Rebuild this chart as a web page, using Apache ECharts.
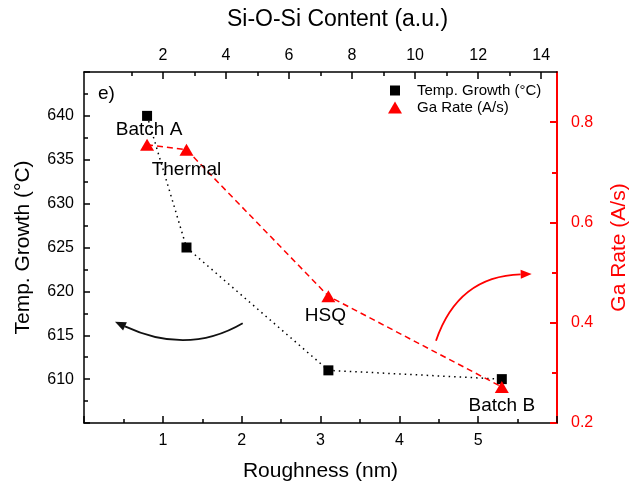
<!DOCTYPE html>
<html>
<head>
<meta charset="utf-8">
<title>Roughness vs Temp. Growth / Ga Rate</title>
<script src="https://cdn.jsdelivr.net/npm/echarts@6/dist/echarts.min.js"></script>
<style>
  html, body { margin: 0; padding: 0; background: #fff; }
  #main { width: 633px; height: 488px; }
</style>
</head>
<body>
<div id="main"></div>
<script>
// values
const sampleNames = ['Batch A', 'Thermal', 'HSQ', 'Batch B'];
const roughness = [0.8, 1.3, 3.1, 5.3];        // nm
const tempGrowth = [640, 625, 611, 610];       // °C
const gaRate = [0.755, 0.745, 0.453, 0.272];   // A/s

// tick labels that are not on a regular interval from the axis min
const siosiTicks = [2, 4, 6, 8, 10, 12, 14];
const siosiMinor = [1, 3, 5, 7, 9, 11, 13];
const gaTicks = [0.2, 0.4, 0.6, 0.8];
const gaMinor = [0.3, 0.5, 0.7];

const FONT = '"Liberation Sans", Arial, sans-serif';
const black = '#000';
const red = '#ff0000';

// which series carries each sample label, and where it sits from the marker
const labelOn = ['temp', 'ga', 'ga', 'ga'];
const labelShift = [[2, 14], [0, 20], [-3, 20], [0, 19]];

function pointData(ys, key) {
  return roughness.map(function (x, i) {
    let item = { value: [x, ys[i]] };
    if (labelOn[i] == key) {
      item.label = {
        show: true,
        position: 'inside',
        offset: labelShift[i],
        formatter: sampleNames[i],
        color: black,
        fontSize: 19,
        fontFamily: FONT
      };
    }
    return item;
  });
}

// curved arrow: quadratic curve + filled head at the end
function arrow(p0, c, p1, color) {
  let dx = p1[0] - c[0], dy = p1[1] - c[1];
  let len = Math.sqrt(dx * dx + dy * dy);
  dx /= len; dy /= len;
  let headLen = 11, headW = 4.5;
  let bx = p1[0] - dx * headLen, by = p1[1] - dy * headLen;
  return [{
    type: 'bezierCurve',
    shape: { x1: p0[0], y1: p0[1], cpx1: c[0], cpy1: c[1], x2: bx, y2: by },
    style: { stroke: color, lineWidth: 1.8, fill: null }
  }, {
    type: 'polygon',
    shape: { points: [p1, [bx - dy * headW, by + dx * headW], [bx + dy * headW, by - dx * headW]] },
    style: { fill: color }
  }];
}

var myChart = echarts.init(document.getElementById('main'));

const tickStyle = { color: black, width: 1.5 };

let option = {
  animation: false,
  textStyle: { fontFamily: FONT },
  grid: { left: 84, right: 76, top: 72, bottom: 65, outerBoundsMode: 'none' },
  legend: [{
    data: [{ name: 'Temp. Growth (°C)', icon: 'rect' }],
    left: 390, top: 83, padding: 0,
    itemWidth: 10, itemHeight: 10,
    selectedMode: false,
    textStyle: { fontSize: 15, color: black, padding: [0, 0, 0, 12] }
  }, {
    data: [{ name: 'Ga Rate (A/s)', icon: 'triangle' }],
    left: 388, top: 100, padding: 0,
    itemWidth: 14, itemHeight: 12,
    selectedMode: false,
    textStyle: { fontSize: 15, color: black, padding: [0, 0, 0, 10] }
  }],
  xAxis: [{
    type: 'value', position: 'bottom',
    min: 0, max: 6, interval: 1,
    name: 'Roughness (nm)', nameLocation: 'middle', nameGap: 38,
    nameTextStyle: { fontSize: 21, color: black },
    axisLine: { onZero: false, lineStyle: { color: black, width: 1.5 } },
    axisTick: { inside: true, length: 7, lineStyle: tickStyle },
    minorTick: { show: true, splitNumber: 2, length: 4, lineStyle: tickStyle },
    axisLabel: { fontSize: 16, color: black, margin: 10, showMinLabel: false, showMaxLabel: false },
    splitLine: { show: false }
  }, {
    type: 'value', position: 'top',
    min: -0.5, max: 14.5,
    name: 'Si-O-Si Content (a.u.)', nameLocation: 'middle', nameGap: 41,
    // the title sits a little right of the plot centre in the original
    nameTextStyle: { fontSize: 23, color: black, padding: [0, 0, 0, 34] },
    axisLine: { onZero: false, lineStyle: { color: black, width: 1.5 } },
    axisTick: { inside: true, length: 7, customValues: siosiTicks, lineStyle: tickStyle },
    axisLabel: { fontSize: 16, color: black, margin: 8, customValues: siosiTicks },
    splitLine: { show: false }
  }, {
    // minor ticks of the top axis
    type: 'value', position: 'top',
    min: -0.5, max: 14.5,
    axisLine: { show: false, onZero: false },
    axisTick: { inside: true, length: 4, customValues: siosiMinor, lineStyle: tickStyle },
    axisLabel: { show: false },
    splitLine: { show: false }
  }],
  yAxis: [{
    type: 'value', position: 'left',
    min: 605, max: 645, interval: 5,
    name: 'Temp. Growth (°C)', nameLocation: 'middle', nameGap: 50,
    nameTextStyle: { fontSize: 21, color: black },
    axisLine: { show: true, onZero: false, lineStyle: { color: black, width: 1.5 } },
    axisTick: { show: true, inside: true, length: 6, lineStyle: tickStyle },
    minorTick: { show: true, splitNumber: 2, length: 4, lineStyle: tickStyle },
    axisLabel: { fontSize: 16, color: black, margin: 10, showMinLabel: false, showMaxLabel: false },
    splitLine: { show: false }
  }, {
    type: 'value', position: 'right',
    min: 0.2, max: 0.9,
    name: 'Ga Rate (A/s)', nameLocation: 'middle', nameGap: 52,
    nameTextStyle: { fontSize: 21, color: red },
    axisLine: { show: true, onZero: false, lineStyle: { color: red, width: 2 } },
    axisTick: { show: true, inside: true, length: 7, customValues: gaTicks, lineStyle: { color: red, width: 2 } },
    axisLabel: {
      fontSize: 16, color: red, margin: 14, customValues: gaTicks,
      formatter: function (v) { return v.toFixed(1); }
    },
    splitLine: { show: false }
  }, {
    // minor ticks of the right axis
    type: 'value', position: 'right',
    min: 0.2, max: 0.9,
    axisLine: { show: false, onZero: false },
    axisTick: { show: true, inside: true, length: 5, customValues: gaMinor, lineStyle: { color: red, width: 2 } },
    axisLabel: { show: false },
    splitLine: { show: false }
  }],
  series: [{
    name: 'Temp. Growth (°C)',
    type: 'line',
    xAxisIndex: 0, yAxisIndex: 0,
    data: pointData(tempGrowth, 'temp'),
    symbol: 'rect', symbolSize: 10,
    itemStyle: { color: black },
    lineStyle: { color: black, width: 1.5, type: [1.5, 4] },
    z: 2
  }, {
    name: 'Ga Rate (A/s)',
    type: 'line',
    xAxisIndex: 0, yAxisIndex: 1,
    data: pointData(gaRate, 'ga'),
    symbol: 'triangle', symbolSize: [14, 12],
    itemStyle: { color: red },
    lineStyle: { color: red, width: 1.5, type: [6, 4] },
    z: 3
  }],
  graphic: [{
    type: 'text', left: 98, top: 84,
    style: { text: 'e)', font: '19px ' + FONT, fill: black }
  }]
    .concat(arrow([242.7, 323.3], [187.7, 355.5], [115, 321.7], '#111'))
    .concat(arrow([436, 340.7], [458, 276], [531.7, 274], red))
};

myChart.setOption(option);
</script>
</body>
</html>
